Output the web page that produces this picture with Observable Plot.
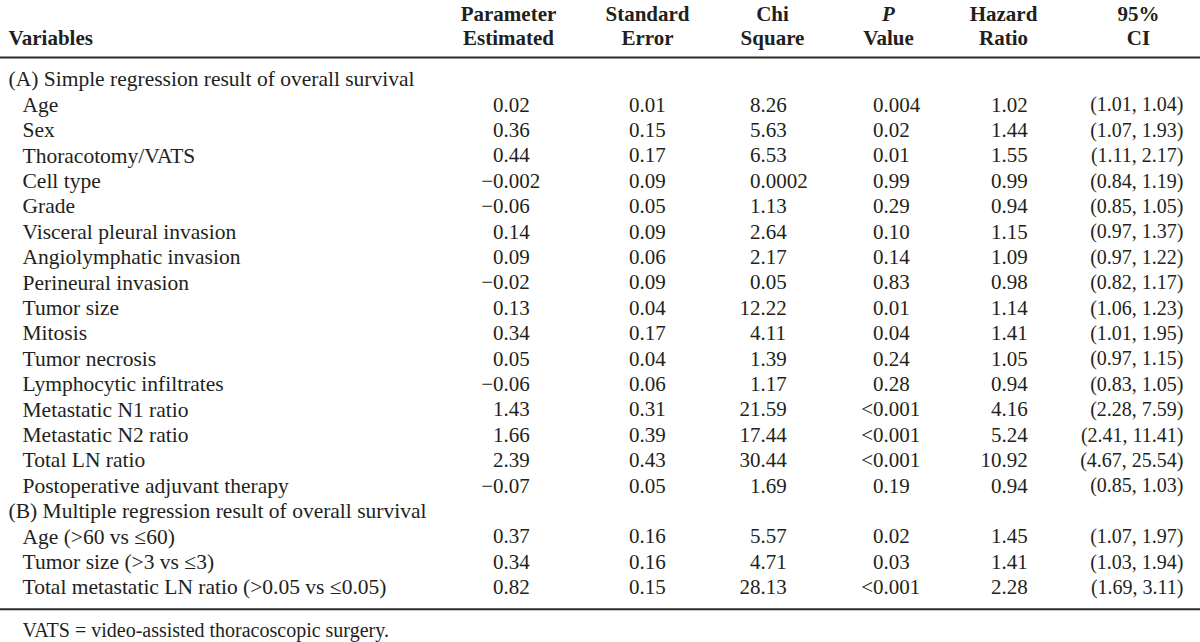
<!DOCTYPE html>
<html>
<head>
<meta charset="utf-8">
<script src="https://cdn.jsdelivr.net/npm/d3@7"></script>
<script src="https://cdn.jsdelivr.net/npm/@observablehq/plot@0.6"></script>
<style>
  html, body { margin: 0; padding: 0; background: #fff; }
  svg { display: block; }
</style>
</head>
<body>
<div id="chart"></div>
<script>
// ---------- DATA ----------
const variables = [
  "(A) Simple regression result of overall survival",
  "Age", "Sex", "Thoracotomy/VATS", "Cell type", "Grade",
  "Visceral pleural invasion", "Angiolymphatic invasion", "Perineural invasion",
  "Tumor size", "Mitosis", "Tumor necrosis", "Lymphocytic infiltrates",
  "Metastatic N1 ratio", "Metastatic N2 ratio", "Total LN ratio",
  "Postoperative adjuvant therapy",
  "(B) Multiple regression result of overall survival",
  "Age (>60 vs \u226460)", "Tumor size (>3 vs \u22643)",
  "Total metastatic LN ratio (>0.05 vs \u22640.05)"
];
const isSection = [true, false, false, false, false, false, false, false, false, false, false, false, false, false, false, false, false, true, false, false, false];
const paramEstimated = ["", "0.02", "0.36", "0.44", "\u22120.002", "\u22120.06", "0.14", "0.09", "\u22120.02", "0.13", "0.34", "0.05", "\u22120.06", "1.43", "1.66", "2.39", "\u22120.07", "", "0.37", "0.34", "0.82"];
const standardError = ["", "0.01", "0.15", "0.17", "0.09", "0.05", "0.09", "0.06", "0.09", "0.04", "0.17", "0.04", "0.06", "0.31", "0.39", "0.43", "0.05", "", "0.16", "0.16", "0.15"];
const chiSquare = ["", "8.26", "5.63", "6.53", "0.0002", "1.13", "2.64", "2.17", "0.05", "12.22", "4.11", "1.39", "1.17", "21.59", "17.44", "30.44", "1.69", "", "5.57", "4.71", "28.13"];
const pValue = ["", "0.004", "0.02", "0.01", "0.99", "0.29", "0.10", "0.14", "0.83", "0.01", "0.04", "0.24", "0.28", "<0.001", "<0.001", "<0.001", "0.19", "", "0.02", "0.03", "<0.001"];
const hazardRatio = ["", "1.02", "1.44", "1.55", "0.99", "0.94", "1.15", "1.09", "0.98", "1.14", "1.41", "1.05", "0.94", "4.16", "5.24", "10.92", "0.94", "", "1.45", "1.41", "2.28"];
const ci95 = ["", "(1.01, 1.04)", "(1.07, 1.93)", "(1.11, 2.17)", "(0.84, 1.19)", "(0.85, 1.05)", "(0.97, 1.37)", "(0.97, 1.22)", "(0.82, 1.17)", "(1.06, 1.23)", "(1.01, 1.95)", "(0.97, 1.15)", "(0.83, 1.05)", "(2.28, 7.59)", "(2.41, 11.41)", "(4.67, 25.54)", "(0.85, 1.03)", "", "(1.07, 1.97)", "(1.03, 1.94)", "(1.69, 3.11)"];

const columnKeys = ["param", "se", "chi", "p", "hr", "ci"];
const headerLine1 = ["Parameter", "Standard", "Chi", "P", "Hazard", "95%"];
const headerLine2 = ["Estimated", "Error", "Square", "Value", "Ratio", "CI"];
const footnote = "VATS = video-assisted thoracoscopic surgery.";

// ---------- LAYOUT ----------
const W = 1200, H = 642;
const rowH = 25.4, firstRowY = 79;           // pixel layout of the row-unit scale
const yHead1 = -2.56, yHead2 = -1.62, yRuleTop = -0.87, yRuleBottom = 20.86, yFoot = 21.7;
const headerDx = {param: 0, se: 13, chi: 12, p: 2, hr: -9, ci: 0};
const valueDx  = {param: -5, se: 5, chi: 0, p: -3, hr: -11, ci: 45};
const FONT = "Liberation Serif, Times New Roman, serif";
const FS_LABEL = 21.5, FS_NUM = 21, FS_CI = 20, FS_FOOT = 20, FS_HEAD = 21;
const INK = "#231f20";

// ---------- TABLE ----------
const rows = variables.map((v, i) => ({
  i, label: v, section: isSection[i],
  param: paramEstimated[i], se: standardError[i], chi: chiSquare[i],
  p: pValue[i], hr: hazardRatio[i], ci: ci95[i]
}));
const sectionRows = rows.filter(r => r.section);
const dataRows = rows.filter(r => !r.section);
const headers = columnKeys.map((k, j) => ({key: k, l1: headerLine1[j], l2: headerLine2[j]}));

const base = {fontFamily: FONT, fill: INK};
const head = {...base, fontSize: FS_HEAD, fontWeight: "bold"};
const marks = [];
// horizontal rules under the header and under the body
marks.push(Plot.ruleY([yRuleTop, yRuleBottom], {stroke: "#2b2b2b", strokeWidth: 2}));
// "Variables" header
marks.push(Plot.text(["Variables"], {...head, frameAnchor: "left", y: () => yHead2, text: d => d, dx: 8,
  textAnchor: "start"}));
// column headers (two lines)
for (const h of headers) {
  marks.push(Plot.text([h], {...head, x: "key", y: () => yHead1, text: "l1", dx: headerDx[h.key],
    fontStyle: h.key === "p" ? "italic" : "normal"}));
  marks.push(Plot.text([h], {...head, x: "key", y: () => yHead2, text: "l2", dx: headerDx[h.key]}));
}
// row labels: section headers flush, items indented
marks.push(Plot.text(sectionRows, {...base, fontSize: FS_LABEL, frameAnchor: "left", y: "i", text: "label", dx: 8, textAnchor: "start"}));
marks.push(Plot.text(dataRows, {...base, fontSize: FS_LABEL, frameAnchor: "left", y: "i", text: "label", dx: 22, textAnchor: "start"}));
// decimal-aligned numeric columns
for (const k of ["param", "se", "chi", "p", "hr"]) {
  marks.push(Plot.text(dataRows, {...base, fontSize: FS_NUM, x: () => k, y: "i", text: d => d[k].split(".")[0],
    dx: valueDx[k], textAnchor: "end"}));
  marks.push(Plot.text(dataRows, {...base, fontSize: FS_NUM, x: () => k, y: "i", text: d => "." + d[k].split(".")[1],
    dx: valueDx[k], textAnchor: "start"}));
}
// CI column right-aligned
marks.push(Plot.text(dataRows, {...base, fontSize: FS_CI, x: () => "ci", y: "i", text: "ci", dx: valueDx.ci, textAnchor: "end"}));
// footnote
marks.push(Plot.text([footnote], {...base, fontSize: FS_FOOT, frameAnchor: "left", y: () => yFoot, text: d => d, dx: 22, textAnchor: "start"}));

const chart = Plot.plot({
  width: W, height: H,
  margin: 0,
  style: {background: "#fff", fontFamily: FONT},
  x: {type: "point", domain: columnKeys, range: [506, 1140], padding: 0, axis: null},
  y: {type: "linear", domain: [-firstRowY / rowH, (H - firstRowY) / rowH], reverse: true, axis: null},
  marks
});
document.getElementById("chart").appendChild(chart);
</script>
</body>
</html>
